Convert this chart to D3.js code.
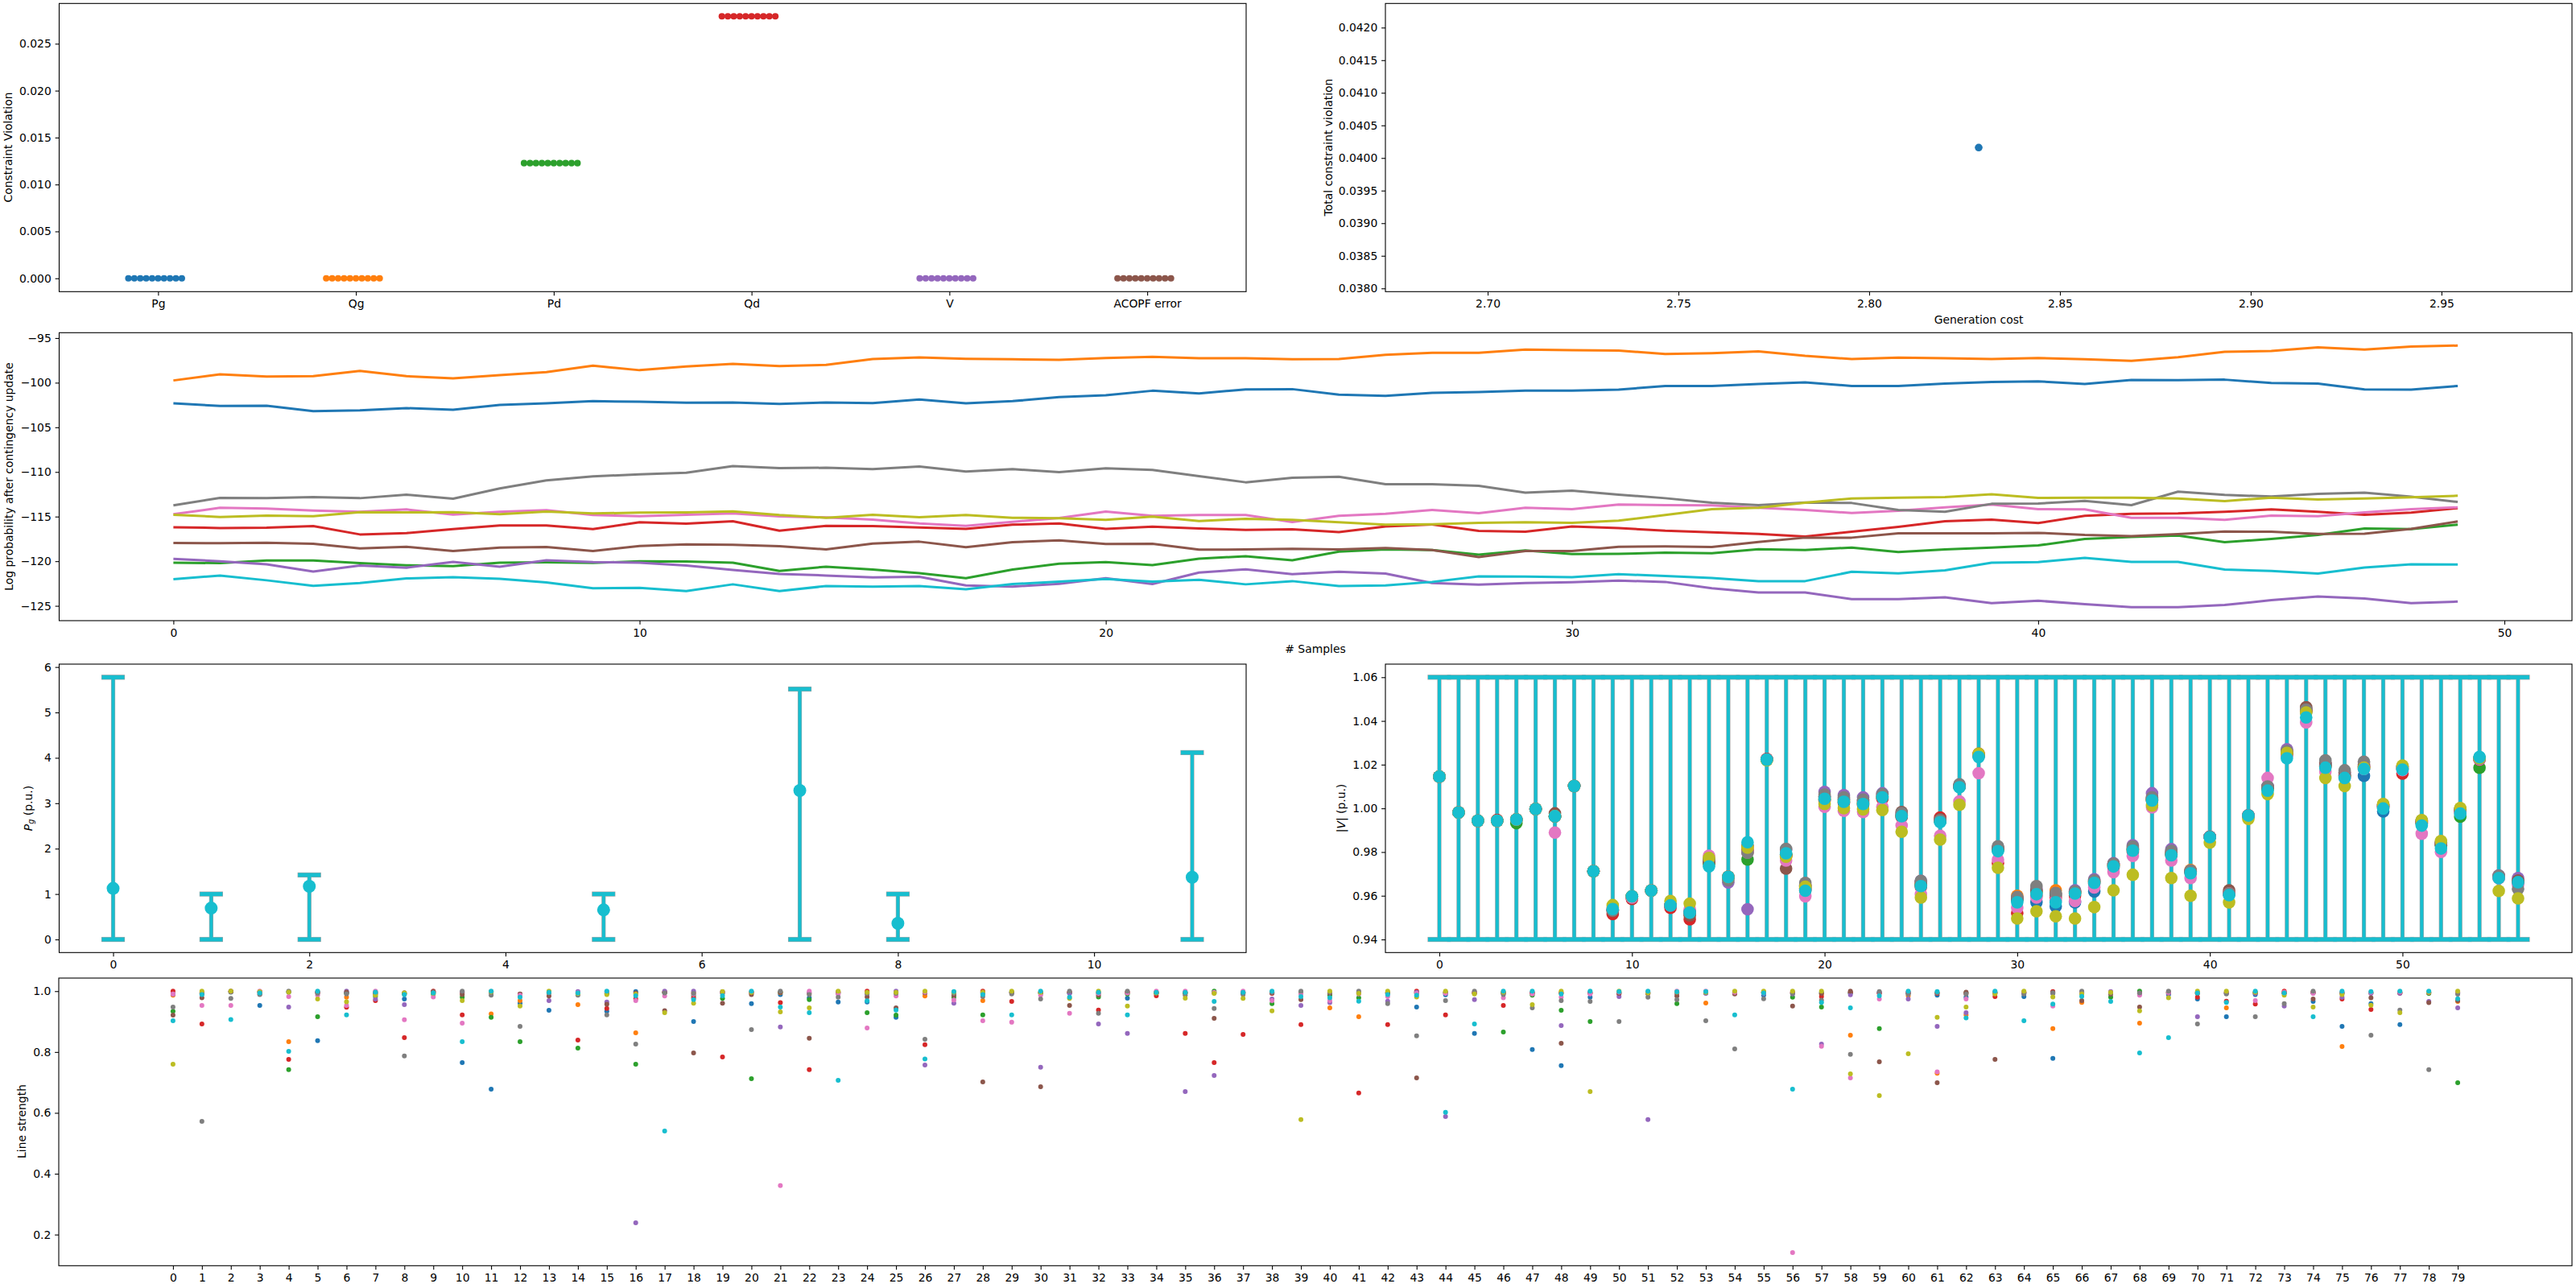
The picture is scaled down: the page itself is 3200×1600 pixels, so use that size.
<!DOCTYPE html>
<html><head><meta charset="utf-8">
<script src="https://cdn.jsdelivr.net/npm/d3@7"></script>
<style>body{margin:0;background:#fff} text{font-family:"DejaVu Sans",sans-serif;}</style>
</head><body><svg id="c" width="3200" height="1600"></svg>
<script>
const COLORS = ["#1f77b4","#ff7f0e","#2ca02c","#d62728","#9467bd","#8c564b","#e377c2","#7f7f7f","#bcbd22","#17becf"];

// ---- panel 1: constraint violation per category ----
const violCategories = ["Pg","Qg","Pd","Qd","V","ACOPF error"];
const violValues = [0, 0, 0.01227, 0.02792, 0, 0];
const violTicks = [0, 0.005, 0.010, 0.015, 0.020, 0.025];

// ---- panel 2: total violation vs cost ----
const genCost = [2.8287];
const totalViolation = [0.04016];
const costTicks = [2.70, 2.75, 2.80, 2.85, 2.90, 2.95];
const totalViolTicks = [0.0380,0.0385,0.0390,0.0395,0.0400,0.0405,0.0410,0.0415,0.0420];

// ---- panel 3: log probability after contingency update (10 series x 50 samples) ----
const lpBlue = [-102.31,-102.61,-102.58,-103.19,-103.1,-102.85,-103.03,-102.49,-102.31,-102.07,-102.13,-102.25,-102.22,-102.37,-102.22,-102.28,-101.89,-102.31,-102.07,-101.62,-101.41,-100.9,-101.2,-100.75,-100.72,-101.35,-101.47,-101.14,-101.05,-100.9,-100.9,-100.78,-100.36,-100.36,-100.15,-99.97,-100.36,-100.36,-100.09,-99.91,-99.85,-100.15,-99.69,-99.72,-99.66,-100.03,-100.09,-100.75,-100.78,-100.36];
const lpOrange = [-99.75,-99.06,-99.3,-99.27,-98.67,-99.27,-99.51,-99.15,-98.82,-98.1,-98.6,-98.19,-97.89,-98.13,-98.0,-97.35,-97.17,-97.32,-97.38,-97.44,-97.23,-97.1,-97.26,-97.26,-97.38,-97.35,-96.87,-96.66,-96.66,-96.3,-96.35,-96.41,-96.78,-96.69,-96.5,-96.99,-97.35,-97.2,-97.26,-97.35,-97.23,-97.38,-97.56,-97.14,-96.54,-96.45,-96.05,-96.3,-95.96,-95.84];
const lpGreen = [-120.16,-120.22,-119.92,-119.92,-120.22,-120.46,-120.55,-120.16,-120.13,-120.19,-120.01,-120.04,-120.16,-121.09,-120.61,-120.94,-121.33,-121.9,-120.94,-120.28,-120.1,-120.43,-119.71,-119.44,-119.89,-118.92,-118.68,-118.74,-119.26,-118.8,-119.2,-119.17,-119.05,-119.1,-118.65,-118.74,-118.47,-118.98,-118.68,-118.47,-118.23,-117.51,-117.27,-117.12,-117.87,-117.51,-117.06,-116.34,-116.4,-115.91];
const lpRed = [-116.19,-116.28,-116.25,-116.07,-117.0,-116.85,-116.4,-116.0,-116.0,-116.4,-115.64,-115.79,-115.52,-116.58,-116.03,-116.07,-116.22,-116.37,-115.91,-115.76,-116.37,-116.13,-116.34,-116.49,-116.43,-116.73,-116.1,-115.88,-116.61,-116.7,-116.1,-116.28,-116.58,-116.76,-116.94,-117.24,-116.7,-116.16,-115.52,-115.34,-115.73,-114.92,-114.68,-114.65,-114.47,-114.2,-114.47,-114.8,-114.56,-114.05];
const lpPurple = [-119.74,-120.01,-120.34,-121.15,-120.49,-120.73,-120.07,-120.61,-119.89,-120.1,-120.16,-120.49,-120.97,-121.42,-121.6,-121.81,-121.75,-122.72,-122.84,-122.53,-121.9,-122.56,-121.27,-120.91,-121.45,-121.18,-121.39,-122.44,-122.62,-122.44,-122.35,-122.17,-122.32,-123.02,-123.5,-123.5,-124.25,-124.25,-124.04,-124.7,-124.43,-124.82,-125.15,-125.15,-124.91,-124.37,-123.95,-124.19,-124.7,-124.52];
const lpBrown = [-117.96,-117.99,-117.93,-118.05,-118.56,-118.38,-118.86,-118.47,-118.41,-118.86,-118.29,-118.11,-118.17,-118.32,-118.68,-118.02,-117.81,-118.44,-117.87,-117.66,-118.08,-118.05,-118.71,-118.68,-118.62,-118.68,-118.53,-118.74,-119.53,-118.86,-118.86,-118.38,-118.35,-118.41,-117.84,-117.36,-117.36,-116.88,-116.88,-116.88,-116.82,-117.06,-117.18,-116.97,-116.67,-116.7,-116.94,-116.91,-116.37,-115.55];
const lpPink = [-114.74,-114.02,-114.11,-114.32,-114.47,-114.2,-114.77,-114.47,-114.29,-114.83,-114.95,-114.8,-114.65,-114.98,-115.1,-115.34,-115.76,-116.03,-115.58,-115.16,-114.44,-114.92,-114.83,-114.83,-115.61,-114.92,-114.68,-114.26,-114.62,-114.02,-114.17,-113.66,-113.72,-113.75,-114.02,-114.26,-114.59,-114.35,-113.96,-113.66,-114.17,-114.2,-115.13,-115.13,-115.37,-114.89,-114.95,-114.53,-114.17,-113.96];
const lpGray = [-113.75,-112.9,-112.94,-112.82,-112.94,-112.54,-113.0,-111.85,-110.95,-110.5,-110.26,-110.08,-109.35,-109.57,-109.53,-109.69,-109.38,-109.96,-109.69,-110.02,-109.6,-109.78,-110.47,-111.16,-110.65,-110.53,-111.37,-111.37,-111.55,-112.33,-112.09,-112.54,-112.94,-113.45,-113.72,-113.42,-113.48,-114.26,-114.47,-113.57,-113.54,-113.24,-113.72,-112.21,-112.57,-112.75,-112.45,-112.33,-112.78,-113.36];
const lpOlive = [-114.8,-115.04,-114.89,-114.95,-114.5,-114.53,-114.5,-114.74,-114.44,-114.65,-114.56,-114.53,-114.41,-114.83,-115.13,-114.8,-115.07,-114.83,-115.13,-115.19,-115.37,-115.01,-115.49,-115.25,-115.37,-115.64,-115.91,-115.85,-115.7,-115.64,-115.7,-115.46,-114.83,-114.17,-114.02,-113.45,-112.97,-112.88,-112.82,-112.51,-112.9,-112.88,-112.88,-112.97,-113.27,-112.88,-113.09,-112.97,-112.85,-112.66];
const lpCyan = [-122.02,-121.6,-122.14,-122.75,-122.44,-121.93,-121.78,-121.96,-122.38,-123.02,-122.99,-123.35,-122.59,-123.35,-122.78,-122.84,-122.78,-123.14,-122.56,-122.29,-121.99,-122.29,-122.08,-122.59,-122.23,-122.78,-122.72,-122.32,-121.69,-121.72,-121.78,-121.45,-121.66,-121.87,-122.23,-122.23,-121.18,-121.36,-121.03,-120.16,-120.1,-119.62,-120.07,-120.07,-120.94,-121.09,-121.39,-120.7,-120.34,-120.37];
const sampleTicks = [0,10,20,30,40,50];
const lpTicks = [-125,-120,-115,-110,-105,-100,-95];

// ---- panel 4: generator active power with limits ----
const genIndex = [0,1,2,5,7,8,11];
const pgMin = [0,0,0,0,0,0,0];
const pgMax = [5.775,1.0,1.42,1.0,5.515,1.0,4.115];
const pgValue = [1.124,0.69,1.17,0.65,3.28,0.355,1.37];
const pgXTicks = [0,2,4,6,8,10];
const pgYTicks = [0,1,2,3,4,5,6];

// ---- panel 5: bus voltage magnitude, per bus the 10 samples (C0..C9) ----
const vMin = 0.94, vMax = 1.06;
const vMagnitude = [
[1.0145,1.0145,1.0145,1.0145,1.0145,1.0145,1.0145,1.0145,1.0145,1.0145],
[0.9981,0.9981,0.9981,0.9981,0.9981,0.9981,0.9981,0.9981,0.9981,0.9981],
[0.9943,0.9943,0.9943,0.9943,0.9943,0.9943,0.9943,0.9943,0.9943,0.9943],
[0.9943,0.9943,0.9943,0.9947,0.9943,0.9943,0.9943,0.9943,0.9943,0.9943],
[0.9949,0.9949,0.9932,0.9949,0.9949,0.9949,0.9949,0.9949,0.9949,0.9949],
[0.9997,0.9997,0.9997,0.9997,0.9997,0.9997,0.9997,0.9997,0.9997,0.9997],
[0.9964,0.9964,0.9964,0.9964,0.9964,0.9977,0.9889,0.9964,0.9964,0.9964],
[1.0102,1.0102,1.0102,1.0102,1.0102,1.0102,1.0102,1.0102,1.0102,1.0102],
[0.9712,0.9712,0.9712,0.9712,0.9712,0.9712,0.9712,0.9712,0.9712,0.9712],
[0.9535,0.9545,0.9535,0.9516,0.9535,0.9530,0.9540,0.9533,0.9557,0.9539],
[0.9597,0.9597,0.9597,0.9585,0.9597,0.9590,0.9592,0.9597,0.9597,0.9597],
[0.9624,0.9624,0.9624,0.9624,0.9624,0.9624,0.9624,0.9624,0.9624,0.9624],
[0.9556,0.9556,0.9556,0.9545,0.9556,0.9556,0.9556,0.9556,0.9576,0.9556],
[0.9523,0.9523,0.9523,0.9492,0.9523,0.9510,0.9539,0.9523,0.9564,0.9523],
[0.9745,0.9750,0.9752,0.9760,0.9762,0.9758,0.9783,0.9767,0.9773,0.9734],
[0.9686,0.9686,0.9686,0.9686,0.9661,0.9686,0.9686,0.9671,0.9686,0.9686],
[0.9830,0.9825,0.9766,0.9810,0.9538,0.9800,0.9798,0.9797,0.9820,0.9845],
[1.0223,1.0223,1.0223,1.0226,1.0223,1.0223,1.0223,1.0223,1.0220,1.0223],
[0.9790,0.9785,0.9788,0.9780,0.9810,0.9724,0.9761,0.9814,0.9779,0.9794],
[0.9630,0.9635,0.9640,0.9625,0.9650,0.9645,0.9597,0.9659,0.9641,0.9623],
[1.0050,1.0045,1.0040,1.0035,1.0075,1.0055,1.0007,1.0063,1.0020,1.0044],
[1.0040,1.0035,1.0030,1.0025,1.0060,1.0045,0.9989,1.0050,1.0001,1.0030],
[1.0030,1.0025,1.0020,1.0015,1.0050,1.0035,0.9983,1.0040,0.9995,1.0020],
[1.0055,1.0050,1.0048,1.0044,1.0069,1.0060,1.0007,1.0065,0.9992,1.0050],
[0.9970,0.9968,0.9965,0.9960,0.9975,0.9983,0.9921,0.9978,0.9893,0.9964],
[0.9650,0.9655,0.9648,0.9640,0.9668,0.9660,0.9607,0.9668,0.9592,0.9644],
[0.9940,0.9945,0.9942,0.9958,0.9948,0.9950,0.9874,0.9945,0.9857,0.9937],
[1.0100,1.0102,1.0098,1.0100,1.0105,1.0104,1.0032,1.0110,1.0016,1.0096],
[1.0240,1.0245,1.0242,1.0250,1.0244,1.0246,1.0161,1.0243,1.0250,1.0235],
[0.9810,0.9815,0.9812,0.9749,0.9820,0.9818,0.9765,0.9826,0.9728,0.9804],
[0.9580,0.9600,0.9585,0.9521,0.9590,0.9588,0.9545,0.9594,0.9496,0.9570],
[0.9570,0.9620,0.9615,0.9600,0.9630,0.9625,0.9592,0.9644,0.9529,0.9607],
[0.9551,0.9625,0.9600,0.9590,0.9605,0.9610,0.9580,0.9613,0.9506,0.9570],
[0.9570,0.9615,0.9612,0.9600,0.9625,0.9618,0.9576,0.9620,0.9496,0.9610],
[0.9619,0.9665,0.9662,0.9655,0.9675,0.9668,0.9638,0.9670,0.9548,0.9659],
[0.9740,0.9742,0.9738,0.9730,0.9749,0.9745,0.9708,0.9746,0.9625,0.9734],
[0.9815,0.9812,0.9810,0.9800,0.9831,0.9820,0.9782,0.9825,0.9696,0.9806],
[1.0045,1.0042,1.0040,1.0035,1.0069,1.0048,1.0004,1.0050,1.0013,1.0036],
[0.9795,0.9792,0.9790,0.9785,0.9813,0.9800,0.9761,0.9805,0.9681,0.9785],
[0.9712,0.9718,0.9710,0.9705,0.9714,0.9712,0.9681,0.9715,0.9600,0.9703],
[0.9870,0.9870,0.9870,0.9870,0.9870,0.9870,0.9870,0.9870,0.9843,0.9868],
[0.9610,0.9610,0.9610,0.9610,0.9610,0.9625,0.9610,0.9610,0.9570,0.9603],
[0.9967,0.9967,0.9967,0.9967,0.9967,0.9967,0.9967,0.9967,0.9952,0.9967],
[1.0095,1.0092,1.0090,1.0098,1.0102,1.0098,1.0139,1.0100,1.0065,1.0081],
[1.0245,1.0248,1.0250,1.0252,1.0270,1.0260,1.0240,1.0262,1.0254,1.0229],
[1.0440,1.0445,1.0450,1.0448,1.0455,1.0463,1.0393,1.0452,1.0439,1.0416],
[1.0200,1.0195,1.0198,1.0190,1.0205,1.0210,1.0167,1.0220,1.0139,1.0186],
[1.0150,1.0148,1.0152,1.0145,1.0160,1.0165,1.0140,1.0174,1.0102,1.0139],
[1.0149,1.0185,1.0188,1.0190,1.0195,1.0200,1.0180,1.0213,1.0186,1.0180],
[0.9986,1.0005,1.0008,1.0010,1.0012,1.0015,1.0002,1.0018,1.0020,0.9999],
[1.0180,1.0185,1.0182,1.0159,1.0188,1.0190,1.0175,1.0192,1.0196,1.0177],
[0.9930,0.9935,0.9932,0.9938,0.9940,0.9942,0.9884,0.9944,0.9946,0.9921],
[0.9830,0.9835,0.9832,0.9838,0.9840,0.9842,0.9801,0.9845,0.9850,0.9816],
[0.9985,0.9988,0.9962,0.9990,0.9992,0.9995,0.9980,0.9996,1.0001,0.9976],
[1.0230,1.0228,1.0186,1.0223,1.0225,1.0226,1.0224,1.0227,1.0230,1.0235],
[0.9685,0.9688,0.9686,0.9684,0.9693,0.9690,0.9680,0.9692,0.9622,0.9681],
[0.9665,0.9668,0.9664,0.9660,0.9681,0.9670,0.9650,0.9631,0.9588,0.9662]
];
const vXTicks = [0,10,20,30,40,50];
const vYTicks = [0.94,0.96,0.98,1.00,1.02,1.04,1.06];

// ---- panel 6: line strength, per line the 10 samples (C0..C9) ----
const lineStrength = [
[0.99,0.987,0.934,1.0,0.99,0.921,0.991,0.948,0.760,0.903],
[0.99,0.995,0.993,0.892,0.995,0.978,0.953,0.572,1.0,0.989],
[0.998,0.999,0.997,0.999,0.998,1.0,0.953,0.976,1.0,0.907],
[0.953,0.998,0.997,0.999,0.996,0.99,1.0,0.989,0.998,0.994],
[0.997,0.834,0.742,0.776,0.948,0.998,0.982,1.0,0.997,0.802],
[0.837,0.998,0.916,0.996,0.997,0.995,0.987,0.993,0.974,1.0],
[0.995,0.98,0.993,0.947,1.0,0.997,0.953,0.991,0.965,0.922],
[0.995,0.998,0.982,0.969,0.974,0.99,1.0,0.993,0.987,0.997],
[0.974,0.99,0.992,0.847,0.956,0.995,0.906,0.787,0.994,0.989],
[0.997,0.996,0.99,1.0,0.998,0.999,0.981,0.995,0.993,0.994],
[0.765,0.995,0.98,0.922,0.997,0.989,0.895,1.0,0.969,0.834],
[0.678,0.925,0.914,0.998,0.997,0.996,0.999,0.987,0.998,1.0],
[0.96,0.969,0.834,0.99,0.985,0.991,0.987,0.884,0.951,0.98],
[0.937,0.998,0.995,0.997,0.969,0.984,0.997,0.995,1.0,0.996],
[0.997,0.956,0.813,0.839,0.999,0.99,0.995,0.987,0.992,0.994],
[0.934,0.996,0.992,0.943,0.964,0.957,0.998,0.922,0.989,1.0],
[0.999,0.863,0.760,0.975,0.239,0.994,0.969,0.826,0.99,0.985],
[0.996,0.998,0.995,0.997,1.0,0.936,0.984,0.994,0.929,0.540],
[0.9,0.995,0.985,0.978,1.0,0.797,0.99,0.993,0.96,0.972],
[0.996,0.997,0.976,0.784,0.998,0.96,0.995,0.993,0.999,0.985],
[0.959,0.996,0.712,0.995,0.997,0.989,0.998,0.874,0.996,1.0],
[0.989,0.995,0.997,0.962,0.882,0.996,0.361,1.0,0.932,0.948],
[0.978,0.993,0.972,0.742,0.995,0.845,1.0,0.989,0.945,0.929],
[0.964,0.997,0.995,0.996,0.998,0.993,0.991,0.98,1.0,0.707],
[0.964,0.995,0.929,1.0,0.99,0.981,0.879,0.993,0.996,0.968],
[0.914,0.997,0.921,0.995,1.0,0.945,0.984,0.993,0.996,0.938],
[0.994,0.984,0.996,0.824,0.757,0.995,0.997,0.842,1.0,0.777],
[0.993,0.996,0.98,0.995,0.96,0.987,0.971,0.993,0.997,0.999],
[0.995,0.969,0.922,1.0,0.993,0.702,0.903,0.982,0.997,0.989],
[0.996,0.995,0.997,0.966,0.994,0.996,0.898,0.991,1.0,0.922],
[0.993,0.995,0.994,0.997,0.750,0.686,0.987,0.974,0.996,1.0],
[0.995,0.996,0.994,0.997,0.993,0.953,0.927,1.0,0.976,0.98],
[0.994,0.995,0.981,0.938,0.892,0.987,0.993,0.927,1.0,0.996],
[0.977,0.997,0.991,0.995,0.861,0.996,0.994,1.0,0.951,0.922],
[0.995,0.996,0.994,0.985,0.997,0.993,1.0,0.995,0.994,0.996],
[0.996,0.995,0.994,0.861,0.670,0.993,1.0,0.987,0.977,0.996],
[0.995,0.994,1.0,0.765,0.723,0.911,0.996,0.943,0.993,0.966],
[0.995,0.997,0.994,0.858,0.996,0.993,1.0,0.989,0.976,0.996],
[0.995,0.996,0.959,0.993,0.974,0.994,0.969,0.996,0.935,1.0],
[0.996,0.994,0.995,0.890,0.953,0.972,0.991,1.0,0.578,0.982],
[0.994,0.945,0.987,0.995,0.962,0.993,0.969,0.996,1.0,0.978],
[0.995,0.916,0.978,0.665,0.996,0.994,0.991,1.0,0.993,0.967],
[0.995,0.996,0.994,0.890,0.967,0.993,0.982,0.959,1.0,0.989],
[0.948,0.995,0.994,1.0,0.996,0.715,0.993,0.853,0.981,0.987],
[0.988,0.995,0.994,0.922,0.588,0.996,0.993,0.969,1.0,0.602],
[0.861,0.995,0.994,0.996,0.972,0.993,0.997,1.0,0.991,0.892],
[0.995,0.996,0.866,0.953,0.994,0.993,0.978,0.989,0.997,1.0],
[0.808,0.995,0.987,0.994,0.996,0.993,0.991,0.945,0.956,1.0],
[0.755,0.995,0.937,0.994,0.887,0.829,0.98,0.969,1.0,0.991],
[0.98,0.995,0.900,0.994,0.996,0.993,0.991,0.966,0.670,1.0],
[0.995,0.996,0.994,0.991,0.982,0.993,0.997,0.900,1.0,0.999],
[0.995,0.996,0.994,0.993,0.578,0.992,0.997,0.98,0.994,1.0],
[0.995,0.996,0.959,0.994,0.993,0.984,1.0,0.972,0.997,0.998],
[0.995,0.961,0.994,0.996,0.993,0.997,1.0,0.903,0.996,0.999],
[0.995,0.996,0.994,0.993,0.997,0.991,0.996,0.810,1.0,0.922],
[0.987,0.996,0.995,0.997,0.993,0.996,0.994,0.975,1.0,0.994],
[0.995,0.994,0.98,0.996,0.991,0.951,0.141,0.993,1.0,0.678],
[0.995,0.99,0.948,0.982,0.826,0.993,0.819,0.97,1.0,0.963],
[0.995,0.855,0.994,0.996,0.988,1.0,0.715,0.792,0.728,0.945],
[0.995,0.993,0.877,0.994,0.996,0.768,0.974,0.999,0.657,0.985],
[0.995,0.985,0.994,0.996,0.974,0.993,0.997,0.99,0.794,1.0],
[0.987,0.730,0.994,0.993,0.884,0.699,0.735,0.995,0.914,0.999],
[0.98,0.922,0.994,0.993,0.929,0.997,0.974,0.99,0.948,0.912],
[0.995,0.996,0.994,0.982,0.993,0.776,0.997,0.996,0.991,1.0],
[0.982,0.995,0.994,0.996,0.993,0.997,0.996,0.991,1.0,0.903],
[0.779,0.877,0.994,0.999,0.993,0.996,0.951,0.994,0.981,0.958],
[0.995,0.963,0.994,0.996,0.993,0.969,0.997,1.0,0.991,0.983],
[0.995,0.994,0.98,0.993,0.999,0.99,0.996,0.994,0.996,0.966],
[0.995,0.895,1.0,0.993,0.99,0.948,0.987,0.994,0.935,0.797],
[0.989,0.995,0.994,0.996,0.993,0.997,0.996,1.0,0.978,0.847],
[0.974,0.995,0.994,0.98,0.916,0.993,0.996,0.892,1.0,0.994],
[0.916,0.945,0.994,0.967,0.993,0.995,0.996,0.991,1.0,0.963],
[0.989,0.995,0.994,0.958,0.993,0.996,0.969,0.916,0.997,1.0],
[0.995,0.996,0.994,1.0,0.951,0.993,0.997,0.959,0.987,0.994],
[0.966,0.995,0.994,0.996,0.994,0.974,0.993,1.0,0.948,0.916],
[0.884,0.818,0.994,0.974,0.98,0.993,0.996,0.995,0.989,1.0],
[0.959,0.995,0.994,0.94,0.993,0.978,0.996,0.855,0.954,0.999],
[0.890,0.995,0.994,0.994,0.993,0.996,0.997,0.938,0.929,1.0],
[0.995,0.994,0.993,0.996,0.966,0.962,0.996,0.742,0.997,1.0],
[0.995,0.966,0.699,0.994,0.945,0.969,0.996,0.99,1.0,0.975]
];
const lsYTicks = [0.2,0.4,0.6,0.8,1.0];

// ================= drawing =================
const svg = d3.select("#c");
const FS = 13.9, TL = 4.86, TP = 4.86;

function makeAxes(box, xDom, yDom, xTicks, xFmt, yTicks, yFmt) {
  const x = d3.scaleLinear().domain(xDom).range([box.l, box.r]);
  const y = d3.scaleLinear().domain(yDom).range([box.b, box.t]);
  const g = svg.append("g");
  const plot = g.append("g");
  const ax = d3.axisBottom(x).tickValues(xTicks).tickSize(TL).tickPadding(TP);
  if (xFmt) ax.tickFormat(xFmt);
  const ay = d3.axisLeft(y).tickValues(yTicks).tickSize(TL).tickPadding(TP);
  if (yFmt) ay.tickFormat(yFmt);
  const gx = g.append("g").attr("transform", `translate(0,${box.b})`).call(ax);
  const gy = g.append("g").attr("transform", `translate(${box.l},0)`).call(ay);
  [gx, gy].forEach(a => {
    a.select(".domain").remove();
    a.attr("font-size", FS).attr("font-family", "DejaVu Sans").attr("color", "#000");
    a.selectAll(".tick line").attr("stroke-width", 1.1);
  });
  g.append("rect").attr("x", box.l).attr("y", box.t).attr("width", box.r - box.l)
    .attr("height", box.b - box.t).attr("fill", "none").attr("stroke", "#000").attr("stroke-width", 1.1);
  return {x, y, plot, g};
}
function yLabel(xc, yc, parts) {
  const t = svg.append("text").attr("transform", `translate(${xc},${yc}) rotate(-90)`)
    .attr("text-anchor", "middle").attr("dominant-baseline", "central").attr("font-size", FS).attr("fill", "#000");
  parts.forEach(p => {
    const s = t.append("tspan").text(p.t);
    if (p.i) s.attr("font-style", "italic");
    if (p.sub) s.attr("font-size", FS * 0.7).attr("dy", 3);
    if (p.up) s.attr("dy", -3);
  });
}
function xLabel(xc, yc, txt) {
  svg.append("text").attr("x", xc).attr("y", yc).attr("text-anchor", "middle")
    .attr("dominant-baseline", "central").attr("font-size", FS).attr("fill", "#000").text(txt);
}
function errorBars(A, xs, lo, hi) {
  const cap = 14;
  [["#a4a4a4", 1.2], [COLORS[9], 0]].forEach(([col, extra]) => {
    xs.forEach((xv, i) => {
      const cx = A.x(xv);
      A.plot.append("line").attr("x1", cx).attr("x2", cx).attr("y1", A.y(lo[i])).attr("y2", A.y(hi[i]))
        .attr("stroke", col).attr("stroke-width", 4 + extra);
      [lo[i], hi[i]].forEach(v => A.plot.append("line").attr("x1", cx - cap - extra/2).attr("x2", cx + cap + extra/2)
        .attr("y1", A.y(v)).attr("y2", A.y(v)).attr("stroke", col).attr("stroke-width", 5 + extra));
    });
  });
}

// Panel 1
{
  const A = makeAxes({l:73.5, r:1548, t:4.3, b:362.3}, [-0.5, 5.5], [-0.00142, 0.02929],
    d3.range(violCategories.length), i => violCategories[i], violTicks, d3.format(".3f"));
  violCategories.forEach((c, i) => {
    for (let k = 0; k < 10; k++) {
      A.plot.append("circle").attr("cx", A.x(i + (k - 5) * 0.03)).attr("cy", A.y(violValues[i]))
        .attr("r", 4.1).attr("fill", COLORS[i]);
    }
  });
  yLabel(10, 183, [{t:"Constraint Violation"}]);
}
// Panel 2
{
  const A = makeAxes({l:1721, r:3195, t:4.3, b:362.3}, [2.6732, 2.9842], [0.03795, 0.04237],
    costTicks, d3.format(".2f"), totalViolTicks, d3.format(".4f"));
  genCost.forEach((c, i) => A.plot.append("circle").attr("cx", A.x(c)).attr("cy", A.y(totalViolation[i]))
    .attr("r", 4.8).attr("fill", COLORS[0]));
  yLabel(1650, 183, [{t:"Total constraint violation"}]);
  xLabel(2458, 397, "Generation cost");
}
// Panel 3
{
  const A = makeAxes({l:73.5, r:3195, t:413.3, b:771}, [-2.45, 51.45], [-126.66, -94.4],
    sampleTicks, d3.format("d"), lpTicks, d3.format("d"));
  const series = [lpBlue, lpOrange, lpGreen, lpRed, lpPurple, lpBrown, lpPink, lpGray, lpOlive, lpCyan];
  const line = d3.line().x((d, i) => A.x(i)).y(d => A.y(d));
  series.forEach((s, k) => A.plot.append("path").attr("d", line(s)).attr("fill", "none")
    .attr("stroke", COLORS[k]).attr("stroke-width", 3).attr("stroke-linejoin", "round"));
  yLabel(11, 592, [{t:"Log probability after contingency update"}]);
  xLabel(1634, 806, "# Samples");
}
// Panel 4
{
  const A = makeAxes({l:73.5, r:1548, t:825, b:1183.3}, [-0.55, 11.55], [-0.289, 6.064],
    pgXTicks, d3.format("d"), pgYTicks, d3.format("d"));
  errorBars(A, genIndex, pgMin, pgMax);
  genIndex.forEach((gi, i) => A.plot.append("circle").attr("cx", A.x(gi)).attr("cy", A.y(pgValue[i]))
    .attr("r", 8).attr("fill", COLORS[9]));
  yLabel(35, 1004, [{t:"P", i:true}, {t:"g", i:true, sub:true}, {t:" (p.u.)", up:true}]);
}
// Panel 5
{
  const A = makeAxes({l:1721, r:3195, t:825, b:1183.3}, [-2.8, 58.8], [0.934, 1.066],
    vXTicks, d3.format("d"), vYTicks, d3.format(".2f"));
  const buses = d3.range(vMagnitude.length);
  errorBars(A, buses, buses.map(() => vMin), buses.map(() => vMax));
  for (let k = 0; k < 10; k++) {
    vMagnitude.forEach((d, b) => A.plot.append("circle").attr("cx", A.x(b)).attr("cy", A.y(d[k]))
      .attr("r", 7.8).attr("fill", COLORS[k]));
  }
  yLabel(1666, 1004, [{t:"|"}, {t:"V", i:true}, {t:"| (p.u.)"}]);
}
// Panel 6
{
  const A = makeAxes({l:73, r:3195, t:1215, b:1572.3}, [-3.95, 82.95], [0.0977, 1.043],
    d3.range(lineStrength.length), d3.format("d"), lsYTicks, d3.format(".1f"));
  for (let k = 0; k < 10; k++) {
    lineStrength.forEach((d, i) => A.plot.append("circle").attr("cx", A.x(i)).attr("cy", A.y(d[k]))
      .attr("r", 3.0).attr("fill", COLORS[k]));
  }
  yLabel(27, 1393, [{t:"Line strength"}]);
}
</script></body></html>
